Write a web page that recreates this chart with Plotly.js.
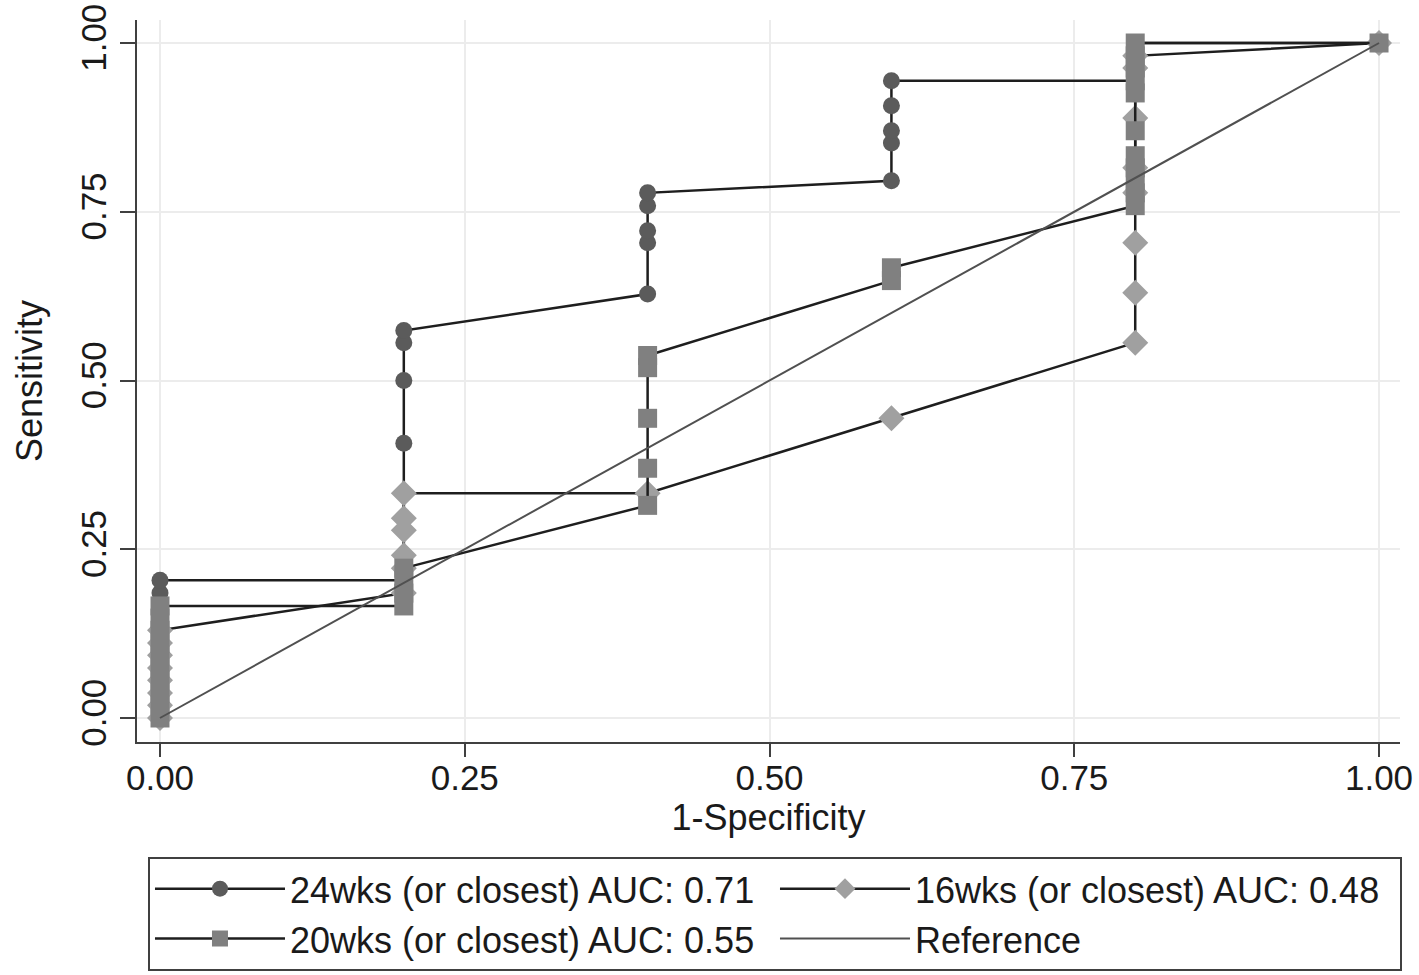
<!DOCTYPE html>
<html>
<head>
<meta charset="utf-8">
<script src="https://cdn.plot.ly/plotly-3.0.1.min.js"></script>
<style>html,body{margin:0;padding:0;background:#fff;}#chart{width:1419px;height:975px;}</style>
</head>
<body>
<div id="chart"></div>
<script>
// 24wks (or closest) — circles
const x24 = [0,0,0,0,0,0,0, 0.2,0.2,0.2,0.2,0.2, 0.4,0.4,0.4,0.4,0.4, 0.6,0.6,0.6,0.6,0.6, 0.8,0.8, 1];
const y24 = [0,0.037,0.074,0.111,0.148,0.185,0.204, 0.204,0.407,0.5,0.556,0.574, 0.628,0.704,0.722,0.759,0.778, 0.796,0.852,0.870,0.907,0.944, 0.944,1.0, 1.0];
// 20wks (or closest) — squares
const x20 = [0,0,0,0,0,0,0,0,0,0, 0.2,0.2,0.2,0.2, 0.4,0.4,0.4,0.4,0.4, 0.6,0.6, 0.8,0.8,0.8,0.8,0.8,0.8,0.8,0.8,0.8,0.8,0.8, 1];
const y20 = [0,0.019,0.037,0.056,0.074,0.093,0.111,0.13,0.148,0.166, 0.166,0.185,0.204,0.222, 0.315,0.37,0.444,0.519,0.537, 0.648,0.667, 0.759,0.778,0.796,0.815,0.833,0.870,0.926,0.944,0.963,0.981,1.0, 1.0];
// 16wks (or closest) — diamonds
const x16 = [0,0,0,0,0,0,0,0, 0.2,0.2,0.2,0.2,0.2,0.2, 0.4, 0.6, 0.8,0.8,0.8,0.8,0.8,0.8,0.8,0.8, 1];
const y16 = [0,0.019,0.037,0.056,0.074,0.093,0.111,0.13, 0.185,0.222,0.241,0.278,0.296,0.333, 0.333, 0.444, 0.556,0.630,0.704,0.778,0.815,0.889,0.963,0.981, 1.0];
// Reference diagonal
const xRef = [0, 1];
const yRef = [0, 1];

const names = ['24wks (or closest) AUC: 0.71', '20wks (or closest) AUC: 0.55', '16wks (or closest) AUC: 0.48', 'Reference'];
const xTicks = [0, 0.25, 0.5, 0.75, 1];
const xTickText = ['0.00', '0.25', '0.50', '0.75', '1.00'];

const FONT = 'Liberation Sans, Arial, sans-serif';
const LINE = '#1e1e1e';

const traces = [
  {x: x24, y: y24, name: names[0], type: 'scatter', mode: 'lines+markers', legendrank: 1,
   line: {color: LINE, width: 2.5}, marker: {symbol: 'circle', size: 17, color: '#5b5b5b'}},
  {x: x16, y: y16, name: names[2], type: 'scatter', mode: 'lines+markers', legendrank: 2,
   line: {color: LINE, width: 2.5}, marker: {symbol: 'diamond', size: 20, color: '#a0a0a0'}},
  {x: x20, y: y20, name: names[1], type: 'scatter', mode: 'lines+markers', legendrank: 3,
   line: {color: LINE, width: 2.5}, marker: {symbol: 'square', size: 19, color: '#808080'}},
  {x: xRef, y: yRef, name: names[3], type: 'scatter', mode: 'lines', legendrank: 4,
   line: {color: '#505050', width: 2}}
];

const layout = {
  width: 1419, height: 975,
  margin: {l: 137, r: 19, t: 20, b: 233, autoexpand: false},
  paper_bgcolor: '#ffffff', plot_bgcolor: '#ffffff',
  font: {family: FONT, color: '#1a1a1a', size: 36},
  showlegend: true,
  xaxis: {
    range: [-0.01887, 1.0172], tickvals: xTicks, ticktext: xTickText,
    showgrid: true, gridcolor: '#ececec', gridwidth: 2, zeroline: false,
    showline: true, linecolor: '#404040', linewidth: 2,
    ticks: 'outside', ticklen: 13, tickwidth: 2, tickcolor: '#404040',
    ticklabelstandoff: -9,
    tickfont: {size: 35, family: FONT, color: '#1a1a1a'},
    title: {text: '1-Specificity', font: {size: 36, family: FONT, color: '#1a1a1a'}, standoff: 4}
  },
  yaxis: {
    range: [-0.03556, 1.03407], tickvals: xTicks, ticktext: xTickText, tickangle: -90,
    showgrid: true, gridcolor: '#ececec', gridwidth: 2, zeroline: false,
    showline: true, linecolor: '#404040', linewidth: 2,
    ticks: 'outside', ticklen: 15, tickwidth: 2, tickcolor: '#404040',
    tickfont: {size: 35, family: FONT, color: '#1a1a1a'},
    title: {text: 'Sensitivity', font: {size: 36, family: FONT, color: '#1a1a1a'}, standoff: 20}
  },
  legend: {
    orientation: 'h', x: 0.0087, xanchor: 'left', y: -0.159, yanchor: 'top',
    entrywidth: 480, entrywidthmode: 'pixels', itemwidth: 130,
    bordercolor: '#404040', borderwidth: 2, bgcolor: '#ffffff',
    font: {size: 36, family: FONT, color: '#1a1a1a'}
  }
};

Plotly.newPlot('chart', traces, layout, {displayModeBar: false, responsive: false});
</script>
</body>
</html>
